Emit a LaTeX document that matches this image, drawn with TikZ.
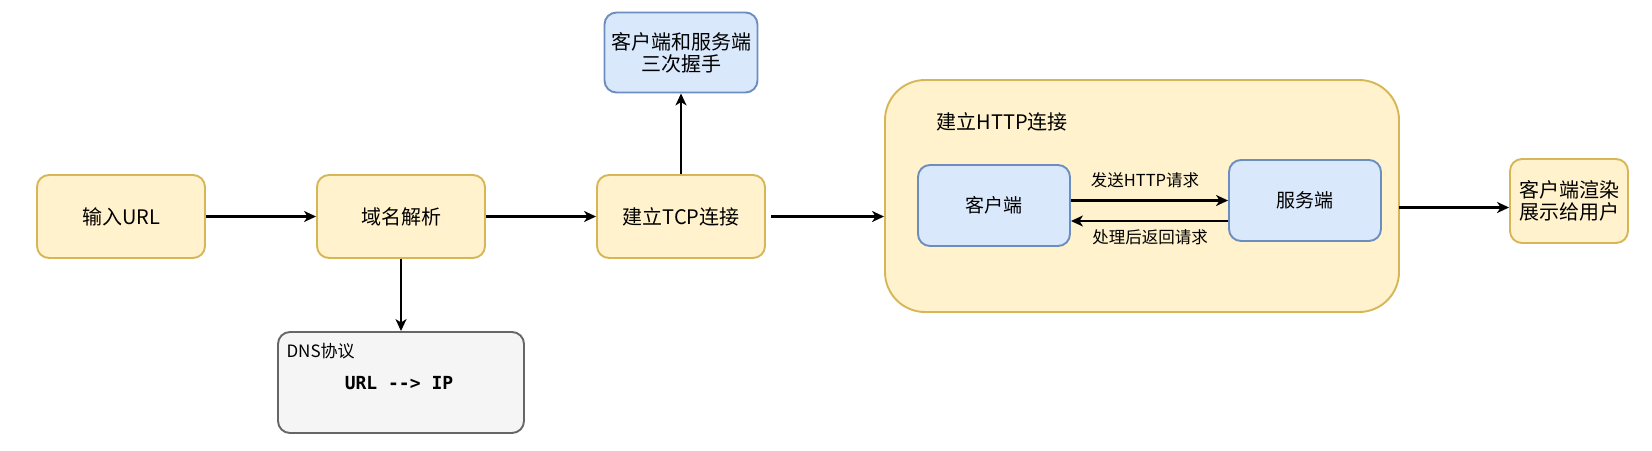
\documentclass[tikz,border=0pt]{standalone}
\usepackage{fontspec}
\setmainfont{Noto Sans CJK SC}
\newfontfamily\monof{DejaVu Sans Mono}
\usetikzlibrary{arrows.meta}
\definecolor{yfill}{HTML}{FFF2CC}
\definecolor{ydraw}{HTML}{D6B656}
\definecolor{bfill}{HTML}{DAE8FC}
\definecolor{bdraw}{HTML}{6C8EBF}
\definecolor{gfill}{HTML}{F5F5F5}
\definecolor{gdraw}{HTML}{666666}
\begin{document}
\begin{tikzpicture}[x=1pt,y=-1pt,
  base/.style={draw, line width=1.9pt, rounded corners=12pt, align=center, inner sep=0pt},
  ybox/.style={base, fill=yfill, draw=ydraw},
  bbox/.style={base, fill=bfill, draw=bdraw},
  gbox/.style={base, fill=gfill, draw=gdraw},
  big/.style={font=\fontsize{20}{24}\selectfont},
  mid/.style={font=\fontsize{19}{23}\selectfont},
  small/.style={font=\fontsize{16.5}{20}\selectfont},
  conn/.style={line width=2.1pt, -{Stealth[length=12pt,width=11pt,inset=3.5pt]}}
]
\useasboundingbox (0,0) rectangle (1652,450);

\node[ybox, big, minimum width=168pt, minimum height=83pt] (input) at (121,216.5) {输入URL};
\node[ybox, big, minimum width=168pt, minimum height=83pt] (resolve) at (401,216.5) {域名解析};
\node[ybox, big, minimum width=168pt, minimum height=83pt] (tcp) at (681,216.5) {建立TCP连接};
\node[bbox, big, minimum width=153pt, minimum height=80pt] (shake) at (681,52.5) {客户端和服务端\\[-2pt]三次握手};
\node[gbox, minimum width=246pt, minimum height=101pt] (dnsbox) at (401,382.5) {};
\node[anchor=west, font=\fontsize{17}{20}\selectfont] (dnstitle) at (283,351) {DNS协议};
\node[font=\monof\bfseries\fontsize{18}{20}\selectfont] (dnstext) at (399,383) {URL --> IP};

\node[ybox, rounded corners=40pt, minimum width=514pt, minimum height=232pt] (http) at (1142,196) {};
\node[anchor=west, big] (httptitle) at (933,122) {建立HTTP连接};
\node[bbox, mid, minimum width=152pt, minimum height=81pt] (client) at (994,205.5) {客户端};
\node[bbox, mid, minimum width=152pt, minimum height=81pt] (server) at (1305,200.5) {服务端};
\node[ybox, big, minimum width=118pt, minimum height=84pt] (render) at (1569,201) {客户端渲染\\[-2pt]展示给用户};

\node[small] (sendlbl) at (1145,180) {发送HTTP请求};
\node[small] (backlbl) at (1150,237) {处理后返回请求};

\coordinate (tcpout) at (771,216.5);
\coordinate (httpout) at (1399,207.5);
\coordinate (backy) at (0,221);

\draw[conn] (input) -- (resolve);
\draw[conn] (resolve) -- (tcp);
\draw[conn] (tcp) -- (shake);
\draw[conn] (resolve.south) -- (dnsbox.north);
\draw[conn] (tcpout) -- (tcpout -| http.west);
\draw[conn] (client.east |- server.west) -- (server.west);
\draw[conn] (server.west |- backy) -- (client.east |- backy);
\draw[conn] (httpout) -- (httpout -| render.west);
\end{tikzpicture}
\end{document}
